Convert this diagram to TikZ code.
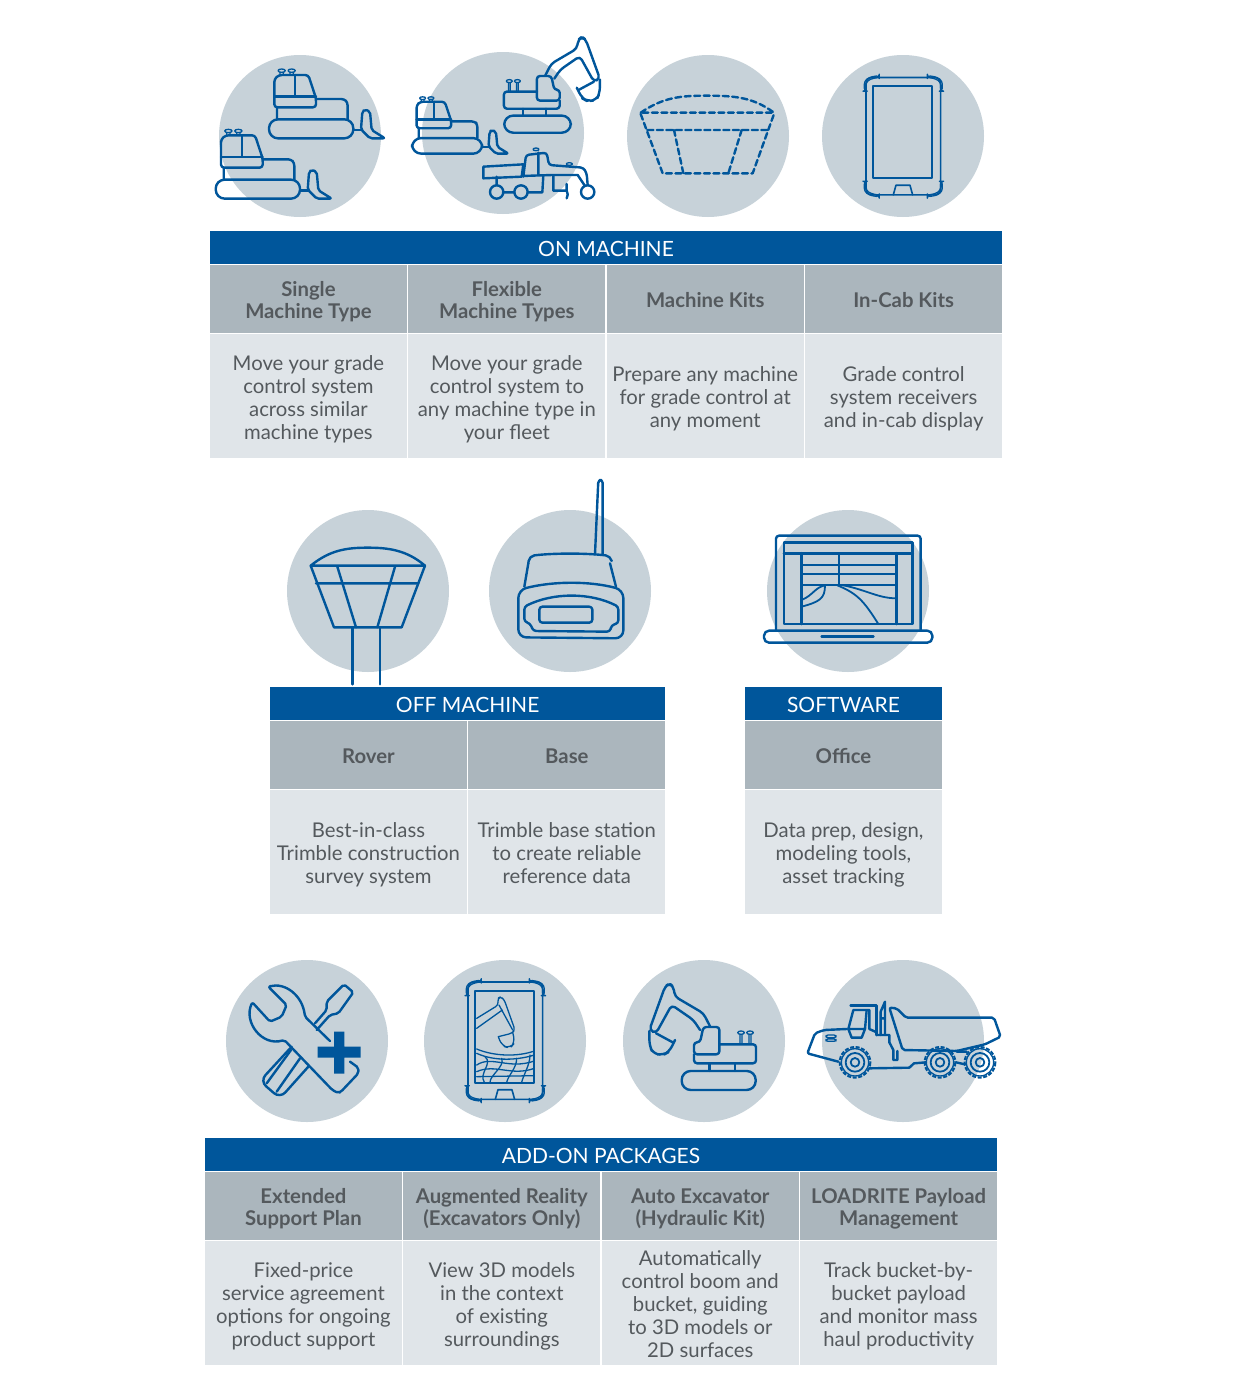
\documentclass[tikz,border=0pt]{standalone}
\usepackage{fontspec}
\setmainfont{Lato}
\usetikzlibrary{positioning}
\definecolor{barblue}{HTML}{00569B}
\definecolor{headgrey}{HTML}{ABB6BD}
\definecolor{textgrey}{HTML}{E0E5E9}
\definecolor{discgrey}{HTML}{C7D2D9}
\definecolor{inkgrey}{HTML}{54595D}
\newcommand{\lead}{\rule{0pt}{1.08\baselineskip}}
\tikzset{
	disc/.style={circle, fill=discgrey, minimum size=162pt, inner sep=0pt},
	barcell/.style={fill=barblue, text=white, minimum height=33pt, inner sep=0pt, outer sep=0pt, font=\fontsize{21}{24}\selectfont, execute at begin node={\rule{0pt}{17.5pt}}},
	headcell/.style={fill=headgrey, text=inkgrey, minimum width=196.9pt, minimum height=68pt, inner sep=0pt, outer sep=0pt, align=center, font=\fontsize{20.3}{22}\selectfont\bfseries, execute at end node={\rule[-6.6pt]{0pt}{1pt}}},
	bodycell/.style={fill=textgrey, text=inkgrey, minimum width=196.9pt, minimum height=124pt, inner sep=0pt, outer sep=0pt, align=center, font=\fontsize{20.3}{23}\selectfont, execute at end node={\rule[-7pt]{0pt}{1pt}}},
	icon/.style={draw=barblue, line width=2.4pt, line join=round, line cap=round},
	fineicon/.style={draw=barblue, line width=1.3pt, line join=round, line cap=round},
	dozer/.pic={
		\begin{scope}[scale=1/3, shift={(-318,-297)}]
			\draw[icon, rounded corners=3pt] (208,232) -- (208,147) -- (222,135) -- (310,135) -- (333,205) -- (333,232) -- cycle;
			\draw[icon] (208,200) -- (333,200) (270,135) -- (270,198);
			\draw[icon, rounded corners=3pt] (216,232) -- (216,268) (333,207) -- (418,207) -- (428,218) -- (428,268);
			\draw[icon, rounded corners=9pt] (192,268) rectangle (445,325);
			\draw[icon] (445,300) -- (472,300);
			\draw[icon, rounded corners=2pt] (468,298) -- (472,245) -- (480,238) -- (495,245) -- (500,300) -- (540,325) -- (495,325) -- cycle;
			\foreach \rx in {230,260} {
				\draw[fineicon] (\rx,122) ellipse (11 and 5) (\rx-5,127) -- (\rx-5,134) (\rx+5,127) -- (\rx+5,134);
			}
		\end{scope}
	},
	digger/.pic={
		\begin{scope}[scale=1/3, shift={(-296,-376)}]
			\draw[icon, rounded corners=9pt] (185,348) rectangle (407,405);
			\draw[icon] (268,325) -- (268,348) (345,325) -- (345,348);
			\draw[icon, rounded corners=3pt] (222,298) -- (222,325) -- (408,325) -- (408,268) -- (298,268);
			\draw[icon, rounded corners=3pt] (222,298) -- (222,262) -- (240,262) -- (250,216) -- (298,216) -- (298,298) -- cycle;
			\draw[icon, rounded corners=4pt] (240,225) -- (220,195) -- (155,150) -- (108,235) -- (88,225) -- (135,95) -- (148,85) -- (160,95) -- (165,125) -- (250,175) -- (270,214);
			\draw[icon, rounded corners=6pt] (88,228) -- (88,272) -- (100,297) -- (130,300) -- (148,290) -- (165,255);
			\draw[icon] (108,235) -- (158,262);
			\foreach \rx in {363,390} {
				\draw[fineicon] (\rx,233) ellipse (10 and 5) (\rx-3,238) -- (\rx-3,268) (\rx+3,238) -- (\rx+3,268);
			}
		\end{scope}
	},
	slate/.pic={
		\begin{scope}[scale=1/3]
			\draw[fineicon, line width=1.6pt, rounded corners=6pt] (-112,-176) rectangle (112,176);
			\draw[icon, line width=2.2pt] (-90,-150) rectangle (87,126);
			\draw[fineicon, line width=1.6pt] (-30,176) -- (-22,147) -- (20,147) -- (28,176);
			\foreach \sx/\sy in {1/1,-1/1,1/-1,-1/-1} {
				\draw[fineicon, xscale=\sx, yscale=\sy, rounded corners=3pt] (-72,-182) -- (-102,-177) -- (-117,-165) -- (-117,-135) -- (-112,-135) -- (-112,-162) -- (-98,-172) -- (-72,-177) -- cycle;
			}
		\end{scope}
	},
	wheel/.pic={
		\begin{scope}[scale=1/3]
			\draw[icon, line width=1.4pt] circle (41);
			\draw[icon, line width=2pt, dash pattern=on 4pt off 1.6pt, line cap=butt] circle (46);
			\draw[icon, line width=1.8pt] circle (28);
			\draw[icon, line width=1.8pt] circle (13);
		\end{scope}
	}
}

\begin{document}
\begin{tikzpicture}[x=1pt, y=-1pt]
	\useasboundingbox (0,0) rectangle (1232,1400);
	\fill[white] (0,0) rectangle (1232,1400);

	\foreach \n/\x/\y in {single/300/136, flexible/503/133, kits/708/136, incab/903/136, rover/368/591, base/570/591, office/848/591, support/307/1041, reality/505/1041, excavator/704/1041, payload/903/1041}
		\node[disc] (disc\n) at (\x,\y) {};

	% on machine
	\node[barcell, minimum width=792pt, anchor=north west] (onbar) at (210,231) {ON MACHINE};
	\node[headcell, anchor=north west] (singlehead) at (210,265) {\lead Single\\Machine Type};
	\node[headcell, right=1.5pt of singlehead] (flexiblehead) {\lead Flexible\\Machine Types};
	\node[headcell, right=1.5pt of flexiblehead] (kitshead) {\lead Machine Kits};
	\node[headcell, right=1.5pt of kitshead] (incabhead) {\lead In-Cab Kits};
	\node[bodycell, below=1pt of singlehead] (singletext) {\lead Move your grade\\control system\\across similar\\machine types};
	\node[bodycell, below=1pt of flexiblehead] (flexibletext) {\lead Move your grade\\control system to\\any machine type in\\your fleet};
	\node[bodycell, below=1pt of kitshead] (kitstext) {\lead Prepare any machine\\for grade control at\\any moment};
	\node[bodycell, below=1pt of incabhead] (incabtext) {\lead Grade control\\system receivers\\and in-cab display};

	% off machine
	\node[barcell, minimum width=395.3pt, anchor=north west] (offbar) at (270,687) {OFF MACHINE};
	\node[headcell, anchor=north west] (roverhead) at (270,721) {\lead Rover};
	\node[headcell, right=1.5pt of roverhead] (basehead) {\lead Base};
	\node[bodycell, below=1pt of roverhead] (rovertext) {\lead Best-in-class\\Trimble construction\\survey system};
	\node[bodycell, below=1pt of basehead] (basetext) {\lead Trimble base station\\to create reliable\\reference data};

	% software
	\node[barcell, minimum width=196.9pt, anchor=north west] (softbar) at (745,687) {SOFTWARE};
	\node[headcell, anchor=north west] (officehead) at (745,721) {\lead Office};
	\node[bodycell, below=1pt of officehead] (officetext) {\lead Data prep, design,\\modeling tools,\\asset tracking};

	% add-on packages
	\node[barcell, minimum width=792pt, anchor=north west] (addbar) at (205,1138) {ADD-ON PACKAGES};
	\node[headcell, anchor=north west] (supporthead) at (205,1172) {\lead Extended\\Support Plan};
	\node[headcell, right=1.5pt of supporthead] (realityhead) {\lead Augmented Reality\\(Excavators Only)};
	\node[headcell, right=1.5pt of realityhead] (excavatorhead) {\lead Auto Excavator\\(Hydraulic Kit)};
	\node[headcell, right=1.5pt of excavatorhead] (payloadhead) {\lead LOADRITE Payload\\Management};
	\node[bodycell, below=1pt of supporthead] (supporttext) {\lead Fixed-price\\service agreement\\options for ongoing\\product support};
	\node[bodycell, below=1pt of realityhead] (realitytext) {\lead View 3D models\\in the context\\of existing\\surroundings};
	\node[bodycell, below=1pt of excavatorhead] (excavatortext) {\lead Automatically\\control boom and\\bucket, guiding\\to 3D models or\\2D surfaces};
	\node[bodycell, below=1pt of payloadhead] (payloadtext) {\lead Track bucket-by-\\bucket payload\\and monitor mass\\haul productivity};

	% machine icons
	\pic at (311,129) {dozer};
	\pic at (257.7,189.3) {dozer};
	\pic[xscale=.83, yscale=.82] at (447,146) {dozer};
	\pic[xscale=-.9, yscale=.9] at (537.5,124) {digger};
	\pic at (718.7,1080.3) {digger};

	% grader
	\begin{scope}[shift={(205,30)}, scale=1/3]
		\draw[icon] (835,410) -- (955,403) -- (950,440) -- (835,445) -- cycle;
		\draw[icon, rounded corners=3pt] (955,440) -- (963,375) -- (1025,368) -- (1032,405) -- (1135,413) -- (1145,430) -- (1148,465);
		\draw[icon] (950,438) -- (1042,435) -- (1118,435) -- (1140,468) (1000,368) -- (1000,435);
		\draw[icon] (875,440) -- (875,465) (894,487) -- (928,487) (968,487) -- (1012,487) -- (1015,437) (1045,437) -- (1045,482) -- (1085,482) -- (1085,462) (1085,505) to[bend right=30] (1085,482);
		\draw[icon] (875,486) circle (20) (948,486) circle (20) (1148,486) circle (20);
		\draw[fineicon] (993,358) ellipse (9 and 4) (1093,402) ellipse (9 and 4);
	\end{scope}

	% dashed rover
	\begin{scope}[shift={(620,40)}, scale=1/3]
		\draw[icon, dash pattern=on 6pt off 3.5pt] (62,218) .. controls (130,172) and (180,167) .. (260,167) .. controls (345,167) and (400,172) .. (462,218) -- cycle;
		\draw[icon, dash pattern=on 6pt off 3.5pt] (62,222) -- (128,400) -- (398,400) -- (462,222);
		\draw[icon, dash pattern=on 6pt off 3.5pt] (82,270) -- (445,270) (162,270) -- (190,400) (365,270) -- (325,400);
	\end{scope}

	\pic at (903.3,136.2) {slate};
	\pic at (505.3,1040.7) {slate};

	% solid rover
	\begin{scope}[shift={(280,475)}, scale=1/3]
		\draw[icon] (92,272) .. controls (150,225) and (200,218) .. (263,218) .. controls (325,218) and (380,225) .. (435,272) -- cycle;
		\draw[icon] (92,272) -- (162,457) -- (365,457) -- (435,272);
		\draw[icon] (108,325) -- (415,325) (172,275) -- (228,457) (345,275) -- (292,457);
		\draw[icon] (218,457) -- (218,628) (300,457) -- (300,628);
	\end{scope}

	% base radio
	\begin{scope}[shift={(280,475)}, scale=1/3]
		\draw[icon, rounded corners=3pt] (945,238) -- (955,15) -- (968,15) -- (968,238);
		\draw[icon, rounded corners=5pt] (745,265) -- (748,243) .. controls (820,234) and (920,234) .. (992,243) -- (995,258);
		\draw[icon] (745,265) -- (733,335) (990,265) -- (1008,335);
		\draw[icon, rounded corners=8pt] (715,345) .. controls (820,318) and (930,318) .. (1030,345) -- (1030,490) -- (715,487) -- cycle;
		\draw[icon, rounded corners=3pt] (733,395) .. controls (820,352) and (930,352) .. (1015,395) -- (1015,445) -- (995,450) -- (990,470) -- (760,468) -- (750,445) -- (733,440) -- cycle;
		\draw[icon, rounded corners=3pt] (778,395) rectangle (937,443);
	\end{scope}

	% laptop
	\begin{scope}[shift={(750,500)}, scale=1/3]
		\draw[icon, rounded corners=3pt] (78,392) -- (78,107) -- (512,107) -- (512,392);
		\draw[icon, line width=2.8pt] (102,128) rectangle (488,372);
		\draw[icon, line width=2.8pt] (102,160) -- (488,160) (155,160) -- (155,372) (440,160) -- (440,372);
		\draw[icon, line width=2pt] (155,195) -- (440,195) (155,222) -- (440,222) (155,254) -- (440,254) (268,160) -- (268,254);
		\draw[icon, line width=1.8pt] (155,300) .. controls (190,285) and (195,262) .. (225,256) .. controls (225,295) and (210,305) .. (155,320);
		\draw[icon, line width=1.8pt] (262,256) .. controls (320,280) and (340,300) .. (385,372) (280,256) .. controls (350,270) and (385,295) .. (440,295);
		\draw[icon, rounded corners=5pt] (42,392) rectangle (547,428);
		\draw[icon, line width=2.8pt] (215,409) -- (370,409);
	\end{scope}

	% wrench, screwdriver and plus
	\begin{scope}[shift={(215,955)}, scale=1/3]
		\draw[icon, rounded corners=2pt] (345,258) -- (270,185) .. controls (262,120) and (210,82) .. (160,95) -- (215,150) -- (200,185) -- (165,200) -- (112,142) .. controls (85,200) and (140,275) .. (208,255) -- (352,405) -- (370,414) -- (378,410) -- (430,355) -- (430,338) -- (405,320);
		\draw[icon, rounded corners=2pt] (300,205) -- (335,165) -- (335,140) -- (387,88) -- (415,112) -- (370,175) -- (345,180) -- (305,225);
		\draw[icon, rounded corners=8pt] (230,275) -- (135,378) -- (195,430) -- (280,335);
		\draw[icon] (228,285) -- (155,385) (255,310) -- (185,410);
		\fill[barblue] (357,230) rectangle (388,356) (308,275) rectangle (437,308);
	\end{scope}

	% scene on the tablet
	\begin{scope}[shift={(215,955)}, scale=1/3]
		\draw[fineicon, rounded corners=3pt] (785,190) -- (850,150) -- (848,130) -- (858,125) -- (868,135) -- (900,225) -- (890,235) -- (850,245);
		\draw[fineicon] (785,220) -- (862,165) (852,150) -- (893,225);
		\draw[fineicon, rounded corners=6pt] (850,245) -- (860,272) -- (885,280) -- (900,262) -- (893,232);
		\draw[fineicon] (785,282) .. controls (840,305) and (910,305) .. (958,288);
		\draw[fineicon] (785,295) .. controls (840,320) and (910,315) .. (958,300);
		\draw[fineicon] (785,330) .. controls (830,300) and (880,345) .. (958,318);
		\draw[fineicon] (785,350) .. controls (840,325) and (890,365) .. (958,340);
		\draw[fineicon] (785,365) -- (958,362);
		\draw[fineicon] (810,305) .. controls (835,325) and (790,355) .. (808,382);
		\draw[fineicon] (860,310) .. controls (870,335) and (825,360) .. (825,382);
		\draw[fineicon] (905,310) .. controls (905,340) and (880,360) .. (875,382);
		\draw[fineicon] (945,300) .. controls (945,330) and (925,360) .. (920,382);
	\end{scope}

	% dump truck
	\begin{scope}[shift={(620,955)}, scale=1/3]
		\draw[icon, rounded corners=2pt] (680,222) -- (612,225) -- (585,235) -- (562,295) -- (655,320);
		\draw[icon, line width=2.8pt] (692,152) -- (770,152) -- (770,240);
		\draw[icon] (700,165) -- (685,222) -- (695,248) -- (725,248) -- (735,222) -- (685,222) (740,165) -- (735,222) (700,165) -- (748,165) -- (748,222) -- (770,232);
		\draw[fineicon, rounded corners=2pt] (618,240) -- (648,240) -- (648,248) -- (618,248) -- cycle (618,252) -- (648,252) -- (648,259) -- (618,259) -- cycle;
		\draw[icon] (782,240) -- (782,170) -- (795,140) -- (795,240) (795,190) -- (782,190);
		\draw[icon] (770,240) -- (808,240) -- (808,262) -- (820,285) -- (820,315) -- (832,315) -- (832,288);
		\draw[icon, rounded corners=2pt] (848,285) -- (808,158) -- (830,160) -- (858,188) -- (1122,188) -- (1142,245) -- (1095,268) -- (1010,288) -- cycle;
		\draw[icon] (748,340) -- (868,338) -- (882,325) -- (918,322);
		\draw[icon] (1010,290) -- (1040,290) (1008,322) -- (1035,328);
		\pic at (705,322) {wheel};
		\pic at (960,322) {wheel};
		\pic at (1080,322) {wheel};
	\end{scope}
\end{tikzpicture}
\end{document}
